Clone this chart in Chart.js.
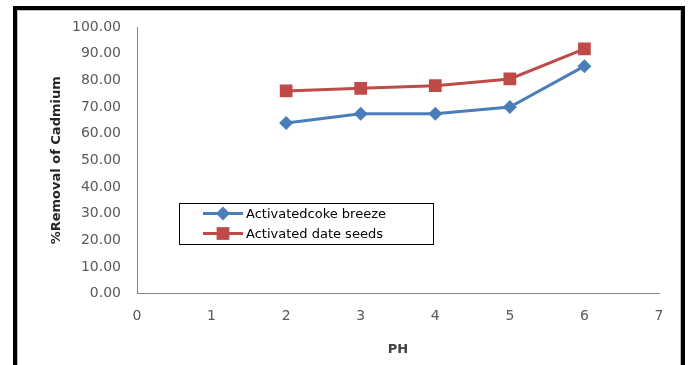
<!DOCTYPE html>
<html>
<head>
<meta charset="utf-8">
<script src="https://cdn.jsdelivr.net/npm/chart.js@4/dist/chart.umd.min.js"></script>
<style>
  html, body { margin: 0; padding: 0; background: #fff; overflow: hidden; }
  canvas { display: block; }
</style>
</head>
<body>
<canvas id="c" width="688" height="365"></canvas>
<script>
// pH values and cadmium removal (%) for the two adsorbents
const phValues = [2, 3, 4, 5, 6];
const cokeBreeze = [64.0, 67.5, 67.5, 70.0, 85.3];
const dateSeeds = [76.0, 77.0, 78.0, 80.5, 91.8];
const seriesNames = ['Activatedcoke breeze', 'Activated date seeds'];

const BLUE = '#4a7ebb';
const RED = '#be4b48';
const FONT = 'DejaVu Sans';

const toPoints = (xs, ys) => xs.map((x, i) => ({ x: x, y: ys[i] }));

// Heavy black frame (open at the bottom) with a thin grey inner edge
const frame = {
  id: 'frame',
  beforeDraw(chart) {
    const ctx = chart.ctx;
    ctx.save();
    ctx.fillStyle = '#000';
    ctx.fillRect(13, 6, 4, 365);
    ctx.fillRect(13, 6, 672, 4);
    ctx.fillRect(681, 6, 4, 365);
    ctx.strokeStyle = '#bfbfbf';
    ctx.lineWidth = 1;
    ctx.beginPath();
    ctx.moveTo(17.5, 365);
    ctx.lineTo(17.5, 10.5);
    ctx.lineTo(680.5, 10.5);
    ctx.lineTo(680.5, 365);
    ctx.stroke();
    ctx.restore();
  }
};

// Boxed legend drawn inside the plot area
const boxLegend = {
  id: 'boxLegend',
  afterDraw(chart) {
    const ctx = chart.ctx;
    const left = 179, top = 203, w = 254, h = 41;
    ctx.save();
    ctx.fillStyle = '#fff';
    ctx.fillRect(left, top, w, h);
    ctx.strokeStyle = '#000';
    ctx.lineWidth = 1;
    ctx.strokeRect(left + 0.5, top + 0.5, w, h);
    chart.data.datasets.forEach((ds, i) => {
      const y = top + 10.5 + i * 20;
      ctx.strokeStyle = ds.borderColor;
      ctx.lineWidth = 3;
      ctx.beginPath();
      ctx.moveTo(203, y);
      ctx.lineTo(243, y);
      ctx.stroke();
      ctx.fillStyle = ds.backgroundColor;
      ctx.strokeStyle = ds.borderColor;
      Chart.helpers.drawPoint(ctx, { pointStyle: ds.pointStyle, radius: ds.pointRadius, borderWidth: 0 }, 223, y);
      ctx.fillStyle = '#000';
      ctx.font = '13px ' + FONT;
      ctx.textBaseline = 'middle';
      ctx.textAlign = 'left';
      ctx.fillText(ds.label, 246, y + 1);
    });
    ctx.restore();
  }
};

new Chart(document.getElementById('c'), {
  type: 'line',
  data: {
    datasets: [
      {
        label: seriesNames[0],
        data: toPoints(phValues, cokeBreeze),
        borderColor: BLUE,
        backgroundColor: BLUE,
        borderWidth: 3,
        pointStyle: 'rectRot',
        pointRadius: 7,
        pointBorderWidth: 0,
        tension: 0
      },
      {
        label: seriesNames[1],
        data: toPoints(phValues, dateSeeds),
        borderColor: RED,
        backgroundColor: RED,
        borderWidth: 3,
        pointStyle: 'rect',
        pointRadius: 9,
        pointBorderWidth: 0,
        tension: 0
      }
    ]
  },
  options: {
    responsive: false,
    animation: false,
    layout: { padding: { left: 45, top: 27, right: 29, bottom: 8 } },
    plugins: { legend: { display: false }, tooltip: { enabled: false } },
    scales: {
      x: {
        type: 'linear',
        min: 0, max: 7,
        grid: { display: false, drawTicks: false },
        border: { display: true, color: '#868686', width: 1 },
        ticks: { stepSize: 1, padding: 14, color: '#595959', font: { family: FONT, size: 14 } },
        title: { display: true, text: 'PH', color: '#404040', padding: { top: 3, bottom: 0 },
                 font: { family: FONT, size: 13, weight: 'bold' } }
      },
      y: {
        min: 0, max: 100,
        grid: { display: false, drawTicks: false },
        border: { display: true, color: '#868686', width: 1 },
        ticks: { stepSize: 10, padding: 16, color: '#595959', font: { family: FONT, size: 14 },
                 callback: v => v.toFixed(2) },
        title: { display: true, text: '%Removal of Cadmium', color: '#262626', padding: 4,
                 font: { family: FONT, size: 13, weight: 'bold' } },
        afterFit: s => { s.width = 92; }
      }
    }
  },
  plugins: [frame, boxLegend]
});
</script>
</body>
</html>
